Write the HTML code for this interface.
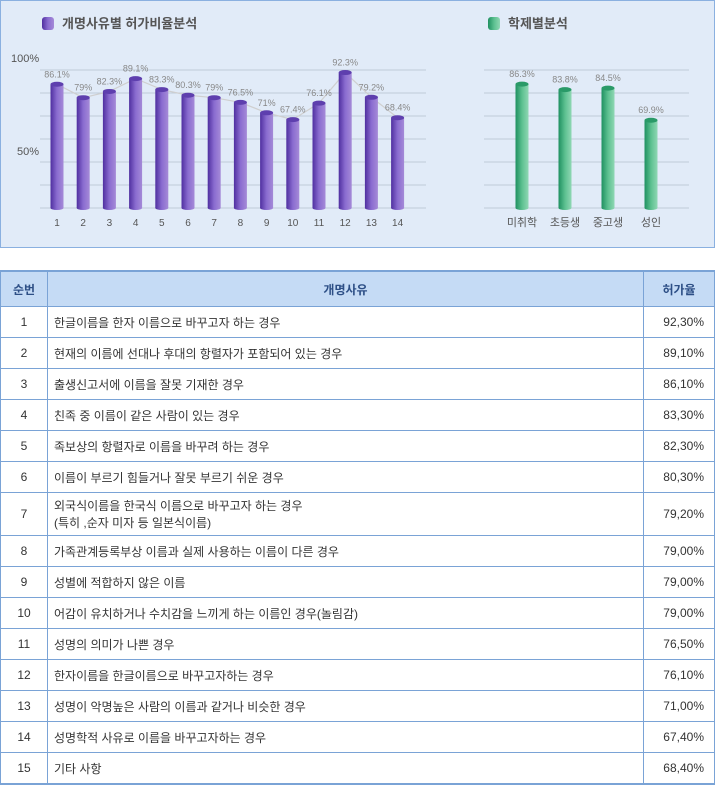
<!DOCTYPE html>
<html><head><meta charset="utf-8">
<style>
body{margin:0;width:715px;height:784px;background:#fff;font-family:"Liberation Sans","Noto Sans CJK KR",sans-serif;position:relative;overflow:hidden}
#panel{position:absolute;left:0;top:0;width:713px;height:246px;border:1px solid #8ab0e0;background:#e1ebf8}
table{position:absolute;left:0;top:270px;width:715px;border-collapse:collapse;font-size:12px;color:#333}
table{border-top:2px solid #7aa3d6;border-bottom:2px solid #7aa3d6}
td,th{border:1px solid #7aa3d6;padding:0 6px;height:30px}
th{background:#c5dbf5;color:#2d4f86;font-weight:bold;height:34px}
td.c{text-align:center}
td.r{text-align:right;padding-right:10px}
</style></head><body>
<div id="panel">
<svg width="715" height="248" style="position:absolute;left:-1px;top:-1px">
<defs>
<linearGradient id="gp" x1="0" x2="1"><stop offset="0" stop-color="#4f2fa0"/><stop offset="0.5" stop-color="#8a6cd0"/><stop offset="1" stop-color="#a58ad8"/></linearGradient>
<linearGradient id="gg" x1="0" x2="1"><stop offset="0" stop-color="#1f9060"/><stop offset="0.5" stop-color="#5cc090"/><stop offset="1" stop-color="#8fd7b3"/></linearGradient>
</defs>
<rect x="42" y="17" width="12" height="13" rx="3" fill="url(#gp)"/>
<text x="62" y="28" font-size="13" font-weight="bold" fill="#555">개명사유별 허가비율분석</text>
<rect x="488" y="17" width="12" height="13" rx="3" fill="url(#gg)"/>
<text x="508" y="28" font-size="13" font-weight="bold" fill="#555">학제별분석</text>
<text x="11" y="62" font-size="11" fill="#555">100%</text>
<text x="17" y="155" font-size="11" fill="#555">50%</text>
<g id="left"></g><g id="right"></g>
</svg>
</div>
<table>
<tr><th style="width:34px">순번</th><th>개명사유</th><th style="width:58px">허가율</th></tr>
<tr><td class="c">1</td><td>한글이름을 한자 이름으로 바꾸고자 하는 경우</td><td class="r">92,30%</td></tr>
<tr><td class="c">2</td><td>현재의 이름에 선대나 후대의 항렬자가 포함되어 있는 경우</td><td class="r">89,10%</td></tr>
<tr><td class="c">3</td><td>출생신고서에 이름을 잘못 기재한 경우</td><td class="r">86,10%</td></tr>
<tr><td class="c">4</td><td>친족 중 이름이 같은 사람이 있는 경우</td><td class="r">83,30%</td></tr>
<tr><td class="c">5</td><td>족보상의 항렬자로 이름을 바꾸려 하는 경우</td><td class="r">82,30%</td></tr>
<tr><td class="c">6</td><td>이름이 부르기 힘들거나 잘못 부르기 쉬운 경우</td><td class="r">80,30%</td></tr>
<tr><td class="c" style="height:42px">7</td><td>외국식이름을 한국식 이름으로 바꾸고자 하는 경우<br>(특히 ,순자 미자 등 일본식이름)</td><td class="r">79,20%</td></tr>
<tr><td class="c">8</td><td>가족관계등록부상 이름과 실제 사용하는 이름이 다른 경우</td><td class="r">79,00%</td></tr>
<tr><td class="c">9</td><td>성별에 적합하지 않은 이름</td><td class="r">79,00%</td></tr>
<tr><td class="c">10</td><td>어감이 유치하거나 수치감을 느끼게 하는 이름인 경우(놀림감)</td><td class="r">79,00%</td></tr>
<tr><td class="c">11</td><td>성명의 의미가 나쁜 경우</td><td class="r">76,50%</td></tr>
<tr><td class="c">12</td><td>한자이름을 한글이름으로 바꾸고자하는 경우</td><td class="r">76,10%</td></tr>
<tr><td class="c">13</td><td>성명이 악명높은 사람의 이름과 같거나 비슷한 경우</td><td class="r">71,00%</td></tr>
<tr><td class="c">14</td><td>성명학적 사유로 이름을 바꾸고자하는 경우</td><td class="r">67,40%</td></tr>
<tr><td class="c">15</td><td>기타 사항</td><td class="r">68,40%</td></tr>
</table>
<script>
const leftCategories=["1","2","3","4","5","6","7","8","9","10","11","12","13","14"];
const leftValues=[86.1,79,82.3,89.1,83.3,80.3,79,76.5,71,67.4,76.1,92.3,79.2,68.4];
const leftLabels=["86.1%","79%","82.3%","89.1%","83.3%","80.3%","79%","76.5%","71%","67.4%","76.1%","92.3%","79.2%","68.4%"];
const rightCategories=["미취학","초등생","중고생","성인"];
const rightValues=[86.3,83.8,84.5,69.9];
const rightLabels=["86.3%","83.8%","84.5%","69.9%"];
const NS="http://www.w3.org/2000/svg";
function mk(p,t,a){const e=document.createElementNS(NS,t);for(const k in a)e.setAttribute(k,a[k]);p.appendChild(e);return e;}
const base=208;
function lx(i){return 57+i*26.2;}
function ly(v){return 247-1.89*v;}
function rx(i){return 522+i*43;}
function ry(v){return 274-2.2*v;}
const L=document.getElementById('left'),R=document.getElementById('right');
[70,93,116,139,162,185,208].forEach(y=>{
 const a=mk(L,'line',{x1:40,x2:426,y1:y,y2:y,stroke:'#bfcbd8'});
 
 
 const b=mk(R,'line',{x1:484,x2:689,y1:y,y2:y,stroke:'#bfcbd8'});
 
 
});
function bars(G,cats,vals,labs,X,Y,grad,top,pref){
 cats.forEach((c,i)=>{
  const x=X(i),y=Y(vals[i]);
  const g=mk(G,'g',{});
  
  
  mk(g,'rect',{x:x-6.5,y:y,width:13,height:base-y,fill:'url(#'+grad+')'});
  mk(g,'ellipse',{cx:x,cy:base,rx:6.5,ry:2,fill:'url(#'+grad+')'});
  mk(g,'ellipse',{cx:x,cy:y,rx:6.5,ry:2.5,fill:top});
  const t=mk(G,'text',{x:x,y:y-7,'font-size':9,fill:'#888','text-anchor':'middle'});
  t.textContent=labs[i];
  
  
  const a=mk(G,'text',{x:x,y:226,'font-size':pref=='left'?10:11,fill:'#555','text-anchor':'middle'});
  a.textContent=c;
  
  
 });
}
const pl=mk(L,'polyline',{points:leftValues.map((v,i)=>lx(i)+','+ly(v)).join(' '),fill:'none',stroke:'#cfcfcf','stroke-width':1.2});


bars(L,leftCategories,leftValues,leftLabels,lx,ly,'gp','#5e3fae','left');
bars(R,rightCategories,rightValues,rightLabels,rx,ry,'gg','#2a9a68','right');
</script>
</body></html>
